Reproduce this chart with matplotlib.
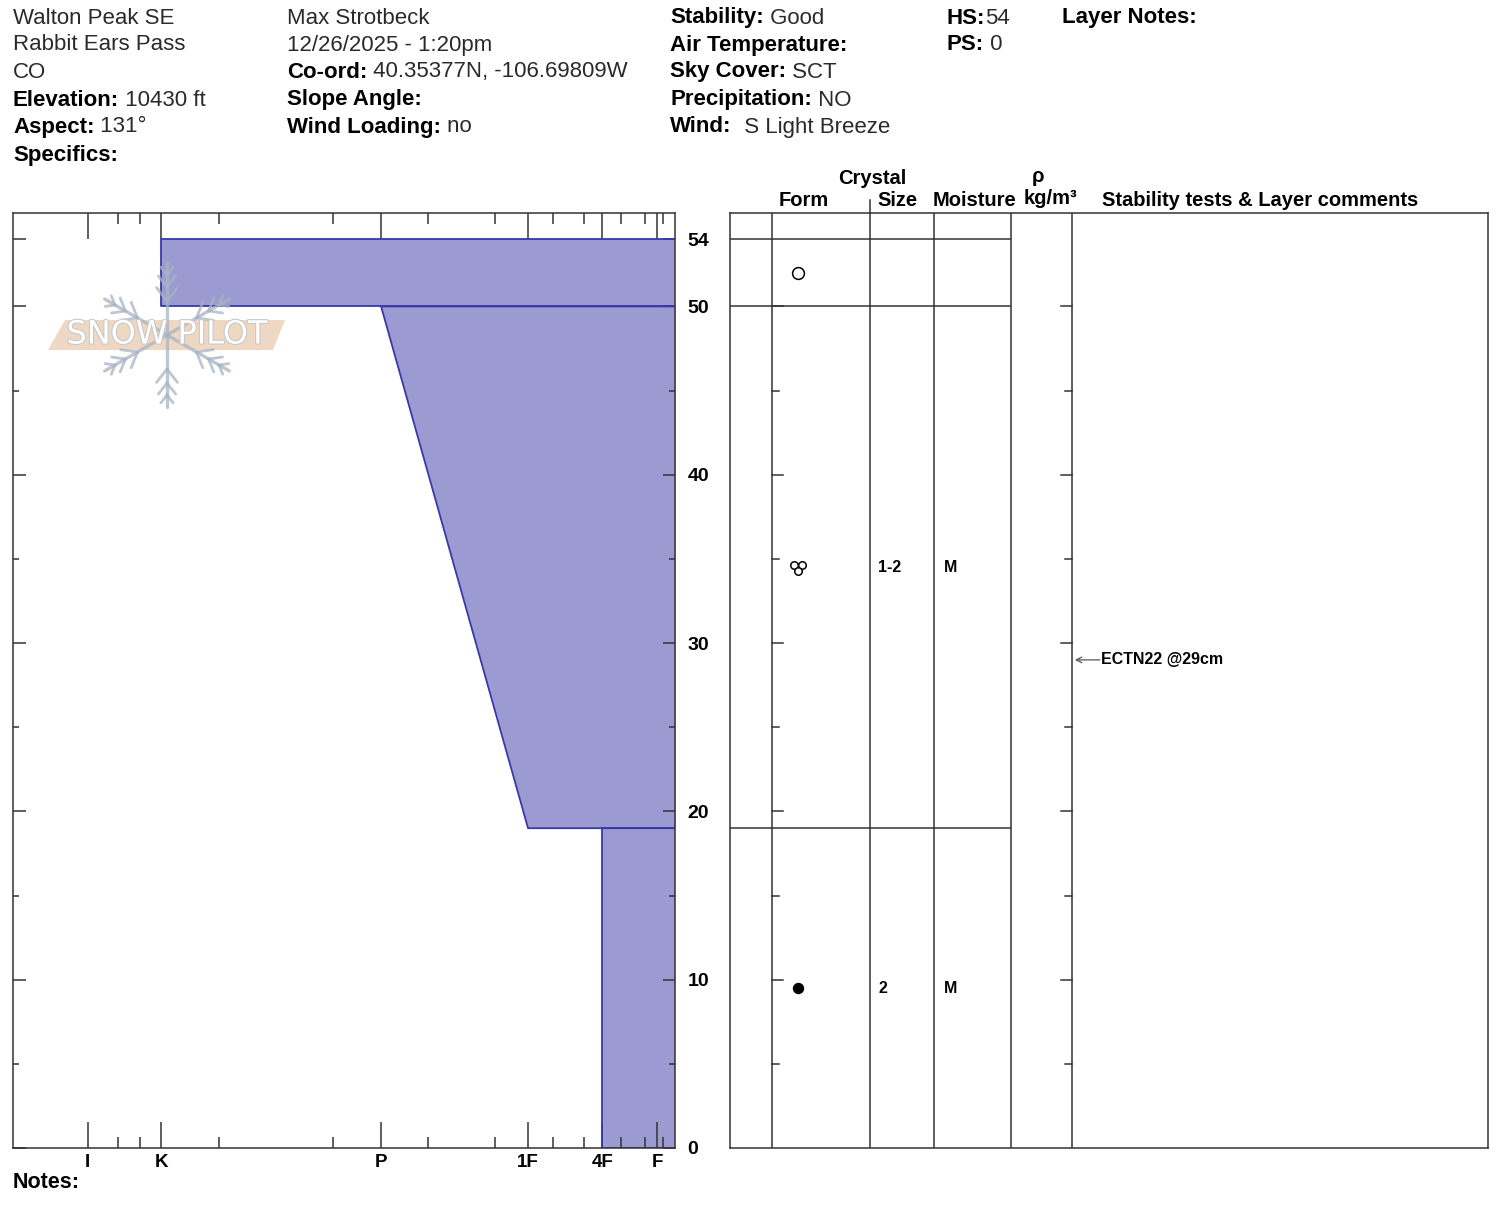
import numpy as np
import matplotlib
matplotlib.use("Agg")
import matplotlib.pyplot as plt
from matplotlib import patheffects
from matplotlib.transforms import ScaledTranslation

plt.rcParams['font.family'] = ['Liberation Sans', 'DejaVu Sans']

# ---- snow profile data ----
layer_top = [54, 50, 19]
layer_bottom = [50, 19, 0]
hard_top = ['K', 'P', '4F']
hard_bottom = ['K', '1F', '4F']
grain_form = ['MF', 'MFcl', 'RG']
grain_size = ['', '1-2', '2']
moisture = ['', 'M', 'M']

test_depth = [29]
test_text = ['ECTN22 @29cm']

# hardness scale (fraction of the profile width)
hard_labels = ['I', 'K', 'P', '1F', '4F', 'F']
hard_pos = [0.113, 0.224, 0.556, 0.778, 0.890, 0.973]
hard_minor = [0.158, 0.192, 0.311, 0.483, 0.627, 0.728, 0.816, 0.862,
              0.918, 0.955, 0.982]
depth_ticks = [0, 10, 20, 30, 40, 50, 54]
depth_minor = [5, 15, 25, 35, 45]

# header fields: (label, value) per column
col_site = [('', 'Walton Peak SE'), ('', 'Rabbit Ears Pass'), ('', 'CO'),
            ('Elevation:', ' 10430 ft'), ('Aspect:', ' 131°'), ('Specifics:', '')]
col_obs = [('', 'Max Strotbeck'), ('', '12/26/2025 - 1:20pm'),
           ('Co-ord:', ' 40.35377N, -106.69809W'), ('Slope Angle:', ''),
           ('Wind Loading:', ' no')]
col_wx = [('Stability:', ' Good'), ('Air Temperature:', ''), ('Sky Cover:', ' SCT'),
          ('Precipitation:', ' NO'), ('Wind:', '  S Light Breeze')]
col_hs = [('HS:', '54'), ('PS:', ' 0')]
col_notes = [('Layer Notes:', '')]

W, H = 1500, 1208
FILL = '#9b9bd2'
EDGE = '#3838a8'
LINE = '#333333'


def fx(px):
    return px / W


def fy(py):
    return 1 - py / H


fig = plt.figure(figsize=(W / 100, H / 100), dpi=100)
fig.patch.set_facecolor('white')

ax = fig.add_axes([fx(13), fy(1148), 662 / W, 935 / H])
axr = fig.add_axes([fx(730), fy(1148), 758 / W, 935 / H])
ymax = 55.55

# ---- header text ----
row_y = [18, 45, 72, 100, 127, 155]


def field(x, y, label, value):
    if label:
        t = fig.text(fx(x), fy(y), label, fontsize=16, fontweight='bold',
                     va='center', ha='left', color='black')
        if value:
            ax.annotate(value, xy=(1, 0), xycoords=t, va='bottom', ha='left',
                        fontsize=16, color='#2a2a2a', annotation_clip=False)
    else:
        fig.text(fx(x), fy(y), value, fontsize=16, va='center', ha='left',
                 color='#2a2a2a')


for col_x, col in zip([13, 287, 670, 947, 1062],
                      [col_site, col_obs, col_wx, col_hs, col_notes]):
    for i, (lab, val) in enumerate(col):
        field(col_x, row_y[i], lab, val)

# ---- hardness profile ----
HP = dict(zip(hard_labels, hard_pos))
for t, b, ht, hb in zip(layer_top, layer_bottom, hard_top, hard_bottom):
    xt, xb = HP[ht], HP[hb]
    ax.fill_betweenx([b, t], [xb, xt], 1, color=FILL, lw=0, zorder=1)
    ax.plot([1, xt, xb, 1], [t, t, b, b], color=EDGE, lw=1.3, zorder=2)

ax.set_xlim(0, 1)
ax.set_ylim(0, ymax)
ax.set_xticks(hard_pos)
ax.set_xticklabels(hard_labels, fontsize=13.5, fontweight='bold')
ax.set_xticks(hard_minor, minor=True)
ax.set_yticks(depth_ticks)
ax.set_yticklabels([str(d) for d in depth_ticks], fontsize=14, fontweight='bold')
ax.set_yticks(depth_minor, minor=True)
ax.tick_params(axis='x', which='major', direction='in', top=True, bottom=True,
               length=19, width=1.1, color=LINE, pad=4)
ax.tick_params(axis='x', which='minor', direction='in', top=True, bottom=True,
               length=8, width=1.1, color=LINE)
ax.tick_params(axis='y', which='major', direction='in', left=True, right=True,
               labelleft=False, labelright=True, length=9, width=1.1,
               color=LINE, pad=9)
ax.tick_params(axis='y', which='minor', direction='in', left=True, right=True,
               length=4.5, width=1.1, color=LINE)
for s in ax.spines.values():
    s.set_color(LINE)
    s.set_linewidth(1.1)

fig.text(fx(13), fy(1183), 'Notes:', fontsize=15.5, fontweight='bold',
         va='center', ha='left')

# ---- layer table ----
cols = [0.0554, 0.1847, 0.2691, 0.3707, 0.4512]
axr.set_xlim(0, 1)
axr.set_ylim(0, ymax)
axr.set_xticks([])
axr.set_yticks([])
for s in axr.spines.values():
    s.set_color(LINE)
    s.set_linewidth(1.1)
for c in cols:
    axr.axvline(c, color=LINE, lw=1.1)
axr.plot([cols[1], cols[1]], [1, 1.014], transform=axr.transAxes,
         color=LINE, lw=1.1, clip_on=False)
bounds = sorted(set(layer_top + layer_bottom) - {0})
axr.hlines(bounds, 0, cols[3], color=LINE, lw=1.1)

# depth ticks on the form and comments lines
for d in depth_minor + depth_ticks[1:-1]:
    ln = 0.0145 if d % 10 == 0 else 0.009
    axr.plot([cols[0], cols[0] + ln], [d, d], color=LINE, lw=1.1)
    axr.plot([cols[4] - ln, cols[4]], [d, d], color=LINE, lw=1.1)

form_x, size_x, moist_x = 0.0897, 0.1953, 0.2823
for t, b, g, sz, m in zip(layer_top, layer_bottom, grain_form, grain_size, moisture):
    mid = (t + b) / 2
    if g == 'MF':
        axr.plot(form_x, mid, 'o', ms=8.5, mfc='white', mec='black', mew=1.1)
    elif g == 'RG':
        axr.plot(form_x, mid, 'o', ms=7.2, mfc='black', mec='black')
    elif g == 'MFcl':
        for dx, dy in [(-2.7, 1.7), (2.7, 1.7), (0, -2.5)]:
            off = ScaledTranslation(dx / 72, dy / 72, fig.dpi_scale_trans)
            axr.plot(form_x, mid, 'o', ms=5.4, mfc='white', mec='black',
                     mew=1.1, transform=axr.transData + off)
    axr.text(size_x, mid, sz, fontsize=11.5, fontweight='bold', va='center', ha='left')
    axr.text(moist_x, mid, m, fontsize=11.5, fontweight='bold', va='center', ha='left')

for d, txt in zip(test_depth, test_text):
    axr.annotate('', xy=(0.455, d), xytext=(0.488, d),
                 arrowprops=dict(arrowstyle='->', color='#555555', lw=0.9,
                                 shrinkA=0, shrinkB=0))
    axr.text(0.4895, d, txt, fontsize=11.5, fontweight='bold', va='center', ha='left')

# column headers
hdr = [(804, 201, 'Form'), (872, 179, 'Crystal'), (897, 201, 'Size'),
       (975, 201, 'Moisture'), (1038, 177, 'ρ'), (1050, 199, 'kg/m³')]
for x, y, s in hdr:
    fig.text(fx(x), fy(y), s, fontsize=14.5, fontweight='bold', ha='center',
             va='center')
fig.text(fx(1102), fy(201), 'Stability tests & Layer comments', fontsize=14.5,
         fontweight='bold', ha='left', va='center')

# ---- watermark ----
wm = fig.add_axes([fx(47), fy(410), 240 / W, 150 / H])
wm.set_xlim(-120, 120)
wm.set_ylim(-75, 75)
wm.axis('off')
flake = '#a7b4c2'
for ang in np.deg2rad([90, 30, -30, -90, -150, 150]):
    ux, uy = np.cos(ang), np.sin(ang)
    wm.plot([0, 72 * ux], [0, 72 * uy], color=flake, lw=2.4, alpha=0.75,
            solid_capstyle='round')
    for r, bl in [(34, 17), (48, 14), (60, 10)]:
        for sgn in (-1, 1):
            ba = ang + sgn * np.deg2rad(38)
            wm.plot([r * ux, r * ux + bl * np.cos(ba)],
                    [r * uy, r * uy + bl * np.sin(ba)],
                    color=flake, lw=2.0, alpha=0.75, solid_capstyle='round')
wm.fill([-119, -102, 118, 106], [-15, 15, 15, -15], color='#eed8c4', lw=0)
wm.text(0, 0, 'SNOW PILOT', fontsize=23, color='white', ha='center', va='center',
        family='DejaVu Sans', fontstretch='expanded',
        path_effects=[patheffects.withStroke(linewidth=1.6, foreground='#c9c9c9')])

fig.savefig('out.png', dpi=100)
